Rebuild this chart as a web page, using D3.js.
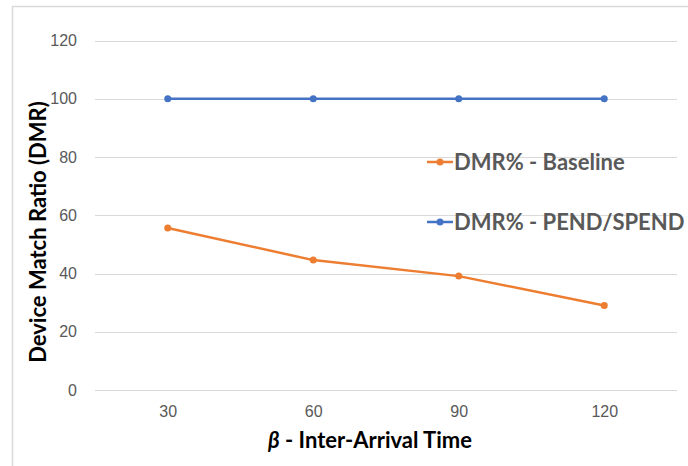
<!DOCTYPE html>
<html lang="en">
<head>
<meta charset="UTF-8">
<script src="https://d3js.org/d3.v7.min.js"></script>
<title>DMR vs Inter-Arrival Time</title>
<style>
  body { margin: 0; background: #fff; }
  svg { display: block; font-family: Lato, "Open Sans", sans-serif; }
  .tick text { fill: #595959; font-size: 16px; }
  .grid line { stroke: #d9d9d9; stroke-width: 1; }
  .legend text { fill: #595959; font-size: 22px; font-weight: bold; }
</style>
</head>
<body>
<script>
// chart data
var categories = ["30", "60", "90", "120"];
var baseline = [55.6, 44.6, 39.1, 29.0];
var pendSpend = [100, 100, 100, 100];
var yTicks = [0, 20, 40, 60, 80, 100, 120];
var seriesNames = ["DMR% - Baseline", "DMR% - PEND/SPEND"];

var width = 688, height = 466;
var colors = ["#ed7d31", "#4472c4"];

var svg = d3.select("body").append("svg")
    .attr("width", width)
    .attr("height", height);

// chart frame
svg.append("rect")
    .attr("x", 12.5).attr("y", 6.5)
    .attr("width", 720).attr("height", 520)
    .attr("fill", "none")
    .attr("stroke", "#d9d9d9")
    .attr("stroke-width", 1.5);

var x = d3.scalePoint().domain(categories).range([95, 677]).padding(0.5);
var y = d3.scaleLinear().domain([0, 120]).range([390, 40.5]);

// gridlines
svg.append("g")
    .attr("class", "grid")
  .selectAll("line")
    .data(yTicks)
  .enter().append("line")
    .attr("x1", 95).attr("x2", 677)
    .attr("y1", function(d) { return Math.round(y(d)) + 0.5; })
    .attr("y2", function(d) { return Math.round(y(d)) + 0.5; });

// y axis labels
var yAxis = svg.append("g")
    .attr("transform", "translate(95,0)")
    .call(d3.axisLeft(y).tickValues(yTicks).tickSize(0).tickPadding(18));
yAxis.select(".domain").remove();

// x axis labels
var xAxis = svg.append("g")
    .attr("transform", "translate(0,400)")
    .call(d3.axisBottom(x).tickSize(0).tickPadding(6));
xAxis.select(".domain").remove();

// axis titles
svg.append("text")
    .attr("transform", "translate(46,232) rotate(-90)")
    .attr("text-anchor", "middle")
    .style("font-size", "22px")
    .style("font-weight", "bold")
    .style("fill", "#000")
    .text("Device Match Ratio (DMR)");

var xt = svg.append("text")
    .attr("x", 370).attr("y", 448)
    .attr("text-anchor", "middle")
    .style("font-size", "22px")
    .style("font-weight", "bold")
    .style("fill", "#000");
xt.append("tspan").style("font-style", "italic").text("\u03b2");
xt.append("tspan").text(" - Inter-Arrival Time");

// series
var series = [baseline, pendSpend];
var line = d3.line()
    .x(function(d, i) { return x(categories[i]); })
    .y(function(d) { return y(d); });

series.forEach(function(vals, s) {
  svg.append("path")
      .datum(vals)
      .attr("fill", "none")
      .attr("stroke", colors[s])
      .attr("stroke-width", 2.5)
      .attr("stroke-linejoin", "round")
      .attr("d", line);
  svg.selectAll(".dot" + s)
      .data(vals)
    .enter().append("circle")
      .attr("cx", function(d, i) { return x(categories[i]); })
      .attr("cy", function(d) { return y(d); })
      .attr("r", 3.5)
      .attr("fill", colors[s]);
});

// legend
var legend = svg.selectAll(".legend")
    .data(seriesNames)
  .enter().append("g")
    .attr("class", "legend")
    .attr("transform", function(d, i) { return "translate(427," + (162 + i * 60) + ")"; });

legend.append("line")
    .attr("x1", 0).attr("x2", 26)
    .attr("stroke", function(d, i) { return colors[i]; })
    .attr("stroke-width", 2.5);
legend.append("circle")
    .attr("cx", 13).attr("r", 3.5)
    .attr("fill", function(d, i) { return colors[i]; });
legend.append("text")
    .attr("x", 27)
    .attr("dy", "0.35em")
    .text(function(d) { return d; });
</script>
</body>
</html>
